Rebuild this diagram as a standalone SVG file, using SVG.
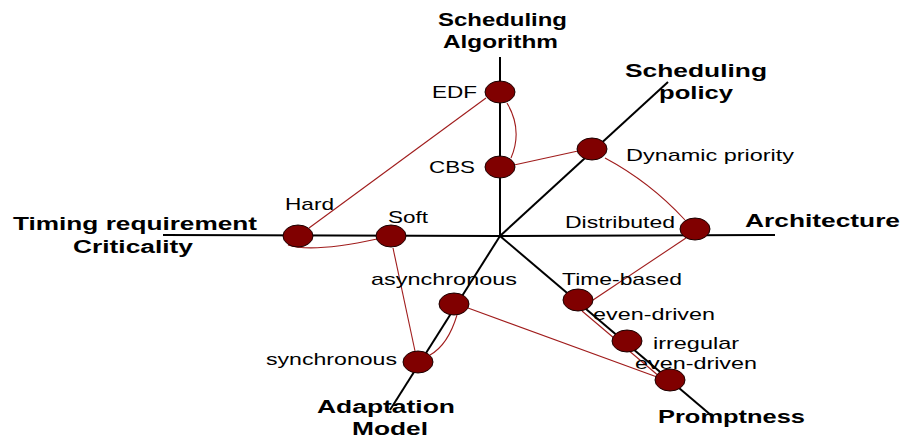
<svg xmlns="http://www.w3.org/2000/svg" width="903" height="441" viewBox="0 0 903 441">
  <style>
    .axis { stroke: #000; stroke-width: 2; fill: none; }
    .link { stroke: #a01c1c; stroke-width: 1.1; fill: none; }
    .dot { fill: #800000; stroke: #1a0000; stroke-width: 1; }
    .lbl { font-family: "Liberation Sans", Arial, sans-serif; font-size: 17px; fill: #000; }
    .ttl { font-family: "Liberation Sans", Arial, sans-serif; font-size: 18px; font-weight: bold; fill: #000; }
  </style>

  <!-- axes radiating from the centre -->
  <g id="axes">
    <path class="axis" d="M500,57 L500,236"/>
    <path class="axis" d="M163,235 L500,236"/>
    <path class="axis" d="M500,236 L775,235"/>
    <path class="axis" d="M500,236 L668,82"/>
    <path class="axis" d="M500,236 L390,410"/>
    <path class="axis" d="M500,236 L712,416"/>
  </g>

  <!-- axis titles -->
  <g id="axis-scheduling-algorithm">
    <text class="ttl" x="438" y="26" textLength="129" lengthAdjust="spacingAndGlyphs">Scheduling</text>
    <text class="ttl" x="443" y="48" textLength="115" lengthAdjust="spacingAndGlyphs">Algorithm</text>
  </g>
  <g id="axis-scheduling-policy">
    <text class="ttl" x="625" y="77" textLength="142" lengthAdjust="spacingAndGlyphs">Scheduling</text>
    <text class="ttl" x="659" y="99" textLength="74" lengthAdjust="spacingAndGlyphs">policy</text>
  </g>
  <g id="axis-timing">
    <text class="ttl" x="13" y="230" textLength="244" lengthAdjust="spacingAndGlyphs">Timing requirement</text>
    <text class="ttl" x="73" y="253" textLength="120" lengthAdjust="spacingAndGlyphs">Criticality</text>
  </g>
  <g id="axis-architecture">
    <text class="ttl" x="745" y="227" textLength="155" lengthAdjust="spacingAndGlyphs">Architecture</text>
  </g>
  <g id="axis-adaptation">
    <text class="ttl" x="317" y="413" textLength="138" lengthAdjust="spacingAndGlyphs">Adaptation</text>
    <text class="ttl" x="352" y="435" textLength="76" lengthAdjust="spacingAndGlyphs">Model</text>
  </g>
  <g id="axis-promptness">
    <text class="ttl" x="658" y="423" textLength="147" lengthAdjust="spacingAndGlyphs">Promptness</text>
  </g>

  <!-- links between chosen values -->
  <g id="connectors">
    <path class="link" d="M486,98 L309,228"/>
    <path class="link" d="M507,103 Q523,130 511,158"/>
    <path class="link" d="M514,165 L578,151"/>
    <path class="link" d="M288,245 Q312,253 377,239"/>
    <path class="link" d="M393,248 L415,351"/>
    <path class="link" d="M457,315 Q448,345 430,355"/>
    <path class="link" d="M468,308 L657,377"/>
    <path class="link" d="M605,158 Q650,182 685,220"/>
    <path class="link" d="M686,238 L593,300"/>
    <path class="link" d="M582,311 L660,377"/>
  </g>

  <!-- value nodes -->
  <g id="node-edf">
    <ellipse class="dot" cx="500" cy="92" rx="15" ry="11"/>
    <text class="lbl" x="432" y="98" textLength="45" lengthAdjust="spacingAndGlyphs">EDF</text>
  </g>
  <g id="node-cbs">
    <ellipse class="dot" cx="500" cy="167" rx="15" ry="11"/>
    <text class="lbl" x="429" y="173" textLength="46" lengthAdjust="spacingAndGlyphs">CBS</text>
  </g>
  <g id="node-hard">
    <ellipse class="dot" cx="298" cy="236" rx="15" ry="11"/>
    <text class="lbl" x="285" y="210" textLength="49" lengthAdjust="spacingAndGlyphs">Hard</text>
  </g>
  <g id="node-soft">
    <ellipse class="dot" cx="391" cy="236" rx="15" ry="11"/>
    <text class="lbl" x="388" y="223" textLength="40" lengthAdjust="spacingAndGlyphs">Soft</text>
  </g>
  <g id="node-dynamic-priority">
    <ellipse class="dot" cx="592" cy="149" rx="15" ry="11"/>
    <text class="lbl" x="626" y="161" textLength="168" lengthAdjust="spacingAndGlyphs">Dynamic priority</text>
  </g>
  <g id="node-distributed">
    <ellipse class="dot" cx="695" cy="229" rx="15" ry="11"/>
    <text class="lbl" x="565" y="228" textLength="110" lengthAdjust="spacingAndGlyphs">Distributed</text>
  </g>
  <g id="node-asynchronous">
    <ellipse class="dot" cx="454" cy="304" rx="15" ry="11"/>
    <text class="lbl" x="371" y="285" textLength="146" lengthAdjust="spacingAndGlyphs">asynchronous</text>
  </g>
  <g id="node-synchronous">
    <ellipse class="dot" cx="418" cy="362" rx="15" ry="11"/>
    <text class="lbl" x="266" y="365" textLength="131" lengthAdjust="spacingAndGlyphs">synchronous</text>
  </g>
  <g id="node-time-based">
    <ellipse class="dot" cx="578" cy="300" rx="15" ry="11"/>
    <text class="lbl" x="562" y="285" textLength="120" lengthAdjust="spacingAndGlyphs">Time-based</text>
  </g>
  <g id="node-even-driven">
    <ellipse class="dot" cx="627" cy="341" rx="15" ry="11"/>
    <text class="lbl" x="593" y="320" textLength="122" lengthAdjust="spacingAndGlyphs">even-driven</text>
  </g>
  <g id="node-irregular-even-driven">
    <ellipse class="dot" cx="670" cy="380" rx="15" ry="11"/>
    <text class="lbl" x="653" y="349" textLength="86" lengthAdjust="spacingAndGlyphs">irregular</text>
    <text class="lbl" x="635" y="369" textLength="122" lengthAdjust="spacingAndGlyphs">even-driven</text>
  </g>
</svg>
